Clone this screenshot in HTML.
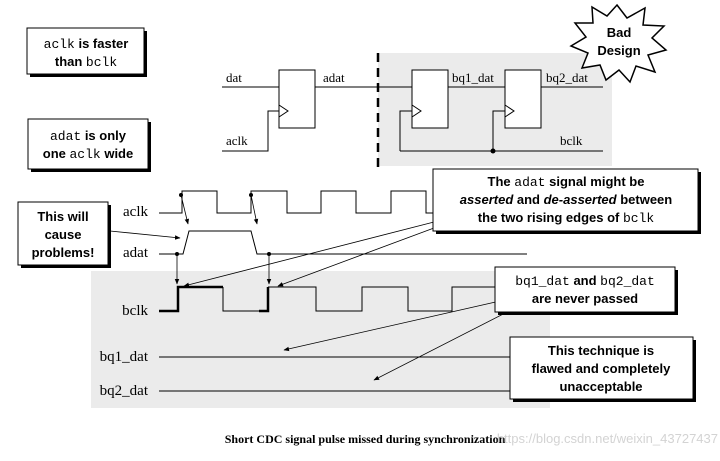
<!DOCTYPE html>
<html><head><meta charset="utf-8"><style>
html,body{margin:0;padding:0;background:#fff;}
svg{display:block;}
.s{font-family:"Liberation Sans",sans-serif;font-weight:bold;font-size:13px;fill:#000;}
.m{font-family:"Liberation Mono",monospace;font-weight:normal;}
.t{font-family:"Liberation Serif",serif;font-size:13px;fill:#000;}
</style></head><body>
<svg width="720" height="461" viewBox="0 0 720 461" xmlns="http://www.w3.org/2000/svg">
<defs>
<marker id="a" viewBox="0 0 10 10" refX="9" refY="5" markerWidth="7" markerHeight="7" orient="auto"><path d="M0,1 L10,5 L0,9 z" fill="#000"/></marker>
</defs>
<rect x="378" y="53" width="234" height="113" fill="#ebebeb"/>
<rect x="91" y="271" width="459" height="137" fill="#ebebeb"/>
<line x1="378" y1="53" x2="378" y2="168" stroke="#000" stroke-width="2.5" stroke-dasharray="9,6"/>
<polygon points="617,5 627,18 645,8 643,25 664,26 652,38 666,50 648,55 655,72 636,66 630,82 619,70 606,80 600,65 582,68 588,53 571,46 586,37 575,23 593,23 592,7 607,16" fill="#fff" stroke="#000" stroke-width="1.5"/>
<text class="s" x="619" y="37" text-anchor="middle">Bad</text>
<text class="s" x="619" y="55" text-anchor="middle">Design</text>
<rect x="30" y="31" width="117" height="46" fill="#000"/>
<rect x="27" y="28" width="117" height="46" fill="#fff" stroke="#000"/>
<text class="s" x="86" y="48" text-anchor="middle"><tspan class="m">aclk</tspan> is faster</text>
<text class="s" x="86" y="66" text-anchor="middle">than <tspan class="m">bclk</tspan></text>
<rect x="31" y="122" width="120" height="50" fill="#000"/>
<rect x="28" y="119" width="120" height="50" fill="#fff" stroke="#000"/>
<text class="s" x="88" y="140" text-anchor="middle"><tspan class="m">adat</tspan> is only</text>
<text class="s" x="88" y="158" text-anchor="middle">one <tspan class="m">aclk</tspan> wide</text>
<g stroke="#000" stroke-width="1" fill="none">
<line x1="222" y1="87" x2="279" y2="87"/>
<rect x="279" y="70" width="36" height="58" fill="#fff"/>
<path d="M222,151 H268 V111 H279"/>
<path d="M279,105 L288,111 L279,117"/>
<line x1="315" y1="87" x2="412" y2="87"/>
<rect x="412" y="70" width="36" height="58" fill="#fff"/>
<path d="M412,105 L421,111 L412,117"/>
<line x1="448" y1="87" x2="505" y2="87"/>
<rect x="505" y="70" width="36" height="58" fill="#fff"/>
<path d="M505,105 L514,111 L505,117"/>
<line x1="541" y1="87" x2="603" y2="87"/>
<path d="M400,151 V111 H412"/>
<path d="M493,151 V111 H505"/>
<line x1="400" y1="151" x2="603" y2="151"/>
</g>
<circle cx="493" cy="151" r="2.5" fill="#000"/>
<g class="t">
<text x="226" y="82">dat</text>
<text x="323" y="82">adat</text>
<text x="226" y="145">aclk</text>
<text x="452" y="82">bq1_dat</text>
<text x="546" y="82">bq2_dat</text>
<text x="560" y="145">bclk</text>
</g>
<g stroke="#000" stroke-width="1" fill="none">
<path d="M159,213 H182 V191 H217 V213 H251 V191 H287 V213 H321 V191 H356 V213 H391 V191 H426 V213 H435"/>
<path d="M159,254 H183 L189,231 H251 L257,254 H527"/>
<path d="M223,287 V311 H268"/><path d="M268,287 H316 V311 H362 V287 H408 V311 H452 V287 H497"/>
<line x1="159" y1="357" x2="512" y2="357"/>
<line x1="159" y1="391" x2="512" y2="391"/>
</g>
<path d="M159,311 H178 V287 H223" stroke="#000" stroke-width="2.5" fill="none"/>
<path d="M259,311 H268 V287" stroke="#000" stroke-width="2.5" fill="none"/>
<g font-family="Liberation Serif,serif" font-size="15" text-anchor="end">
<text x="148" y="216">aclk</text>
<text x="148" y="257">adat</text>
<text x="148" y="315">bclk</text>
<text x="148" y="361">bq1_dat</text>
<text x="148" y="395">bq2_dat</text>
</g>
<g stroke="#000" stroke-width="0.8" fill="none" marker-end="url(#a)">
<line x1="181" y1="195" x2="188" y2="224"/>
<line x1="251" y1="195" x2="257" y2="224"/>
<line x1="177" y1="254" x2="177" y2="284"/>
<line x1="269" y1="254" x2="269" y2="284"/>
<line x1="110" y1="231" x2="180" y2="238"/>
<line x1="434" y1="222" x2="184" y2="286"/>
<line x1="434" y1="228" x2="278" y2="286"/>
<line x1="500" y1="301" x2="284" y2="350"/>
<line x1="511" y1="310" x2="374" y2="380"/>
</g>
<circle cx="181" cy="195" r="2" fill="#000"/><circle cx="251" cy="195" r="2" fill="#000"/>
<circle cx="177" cy="254" r="2" fill="#000"/><circle cx="269" cy="254" r="2" fill="#000"/>
<rect x="21" y="205" width="90" height="63" fill="#000"/>
<rect x="18" y="202" width="90" height="63" fill="#fff" stroke="#000"/>
<text class="s" x="63" y="221" text-anchor="middle">This will</text>
<text class="s" x="63" y="239" text-anchor="middle">cause</text>
<text class="s" x="63" y="257" text-anchor="middle">problems!</text>
<rect x="436" y="172" width="265" height="62" fill="#000"/>
<rect x="433" y="169" width="265" height="62" fill="#fff" stroke="#000"/>
<text class="s" x="566" y="186" text-anchor="middle">The <tspan class="m">adat</tspan> signal might be</text>
<text class="s" x="566" y="204" text-anchor="middle"><tspan font-style="italic">asserted</tspan> and <tspan font-style="italic">de-asserted</tspan> between</text>
<text class="s" x="566" y="222" text-anchor="middle">the two rising edges of <tspan class="m">bclk</tspan></text>
<rect x="498" y="270" width="180" height="45" fill="#000"/>
<rect x="495" y="267" width="180" height="45" fill="#fff" stroke="#000"/>
<text class="s" x="585" y="285" text-anchor="middle"><tspan class="m">bq1_dat</tspan> and <tspan class="m">bq2_dat</tspan></text>
<text class="s" x="585" y="303" text-anchor="middle">are never passed</text>
<rect x="513" y="340" width="183" height="62" fill="#000"/>
<rect x="510" y="337" width="183" height="62" fill="#fff" stroke="#000"/>
<text class="s" x="601" y="355" text-anchor="middle">This technique is</text>
<text class="s" x="601" y="373" text-anchor="middle">flawed and completely</text>
<text class="s" x="601" y="391" text-anchor="middle">unacceptable</text>
<text x="365" y="443" text-anchor="middle" font-family="Liberation Serif,serif" font-weight="bold" font-size="12">Short CDC signal pulse missed during synchronization</text>
<text x="718" y="443" text-anchor="end" font-family="Liberation Sans,sans-serif" font-size="13" fill="#c8c8c8" fill-opacity="0.8">https://blog.csdn.net/weixin_43727437</text>
</svg>
</body></html>
